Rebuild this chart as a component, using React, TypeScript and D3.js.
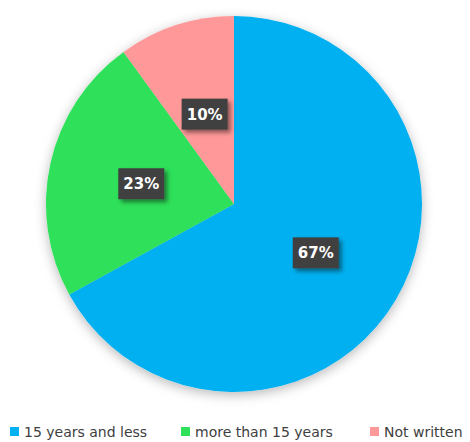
import React, { useEffect, useRef } from 'react';
import * as d3 from 'd3';

const categories = ['15 years and less', 'more than 15 years', 'Not written'];
const values = [67, 23, 10];
const colors = ['#00B0F0', '#2EE05A', '#FF9999'];
const legendX = [10, 181, 370];

export default function App() {
  const ref = useRef<SVGSVGElement>(null);

  useEffect(() => {
    const width = 470;
    const height = 442;
    const cx = 234;
    const cy = 204;
    const radius = 188;

    const svg = d3.select(ref.current)
      .attr('width', width)
      .attr('height', height);
    svg.selectAll('*').remove();

    const defs = svg.append('defs');
    defs.append('filter')
      .attr('id', 'pieShadow')
      .attr('x', '-20%').attr('y', '-20%')
      .attr('width', '140%').attr('height', '140%')
      .append('feDropShadow')
      .attr('dx', 0).attr('dy', 3)
      .attr('stdDeviation', 6)
      .attr('flood-color', '#000')
      .attr('flood-opacity', 0.28);
    defs.append('filter')
      .attr('id', 'boxShadow')
      .attr('x', '-30%').attr('y', '-30%')
      .attr('width', '170%').attr('height', '170%')
      .append('feDropShadow')
      .attr('dx', 3).attr('dy', 3)
      .attr('stdDeviation', 2)
      .attr('flood-color', '#000')
      .attr('flood-opacity', 0.45);

    const pie = d3.pie<number>().sort(null).value(d => d);
    const arcs = pie(values);
    const arc = d3.arc<d3.PieArcDatum<number>>().innerRadius(0).outerRadius(radius);
    const labelArc = d3.arc<d3.PieArcDatum<number>>().innerRadius(95 * 2).outerRadius(0);

    const g = svg.append('g').attr('transform', `translate(${cx},${cy})`);

    g.append('g')
      .attr('filter', 'url(#pieShadow)')
      .selectAll('path')
      .data(arcs)
      .enter()
      .append('path')
      .attr('d', arc)
      .attr('fill', (d, i) => colors[i]);

    const labels = g.selectAll('g.lbl')
      .data(arcs)
      .enter()
      .append('g')
      .attr('class', 'lbl')
      .attr('transform', d => `translate(${labelArc.centroid(d)})`);

    labels.append('rect')
      .attr('x', -23).attr('y', -15)
      .attr('width', 46).attr('height', 31)
      .attr('fill', '#404040')
      .attr('filter', 'url(#boxShadow)');

    labels.append('text')
      .attr('text-anchor', 'middle')
      .attr('y', 6)
      .attr('fill', '#fff')
      .attr('font-family', 'DejaVu Sans, Verdana, sans-serif')
      .attr('font-weight', 'bold')
      .attr('font-size', 15)
      .text(d => `${d.data}%`);

    const legend = svg.append('g')
      .selectAll('g')
      .data(categories)
      .enter()
      .append('g')
      .attr('transform', (d, i) => `translate(${legendX[i]},427)`);

    legend.append('rect')
      .attr('width', 9).attr('height', 9)
      .attr('fill', (d, i) => colors[i]);

    legend.append('text')
      .attr('x', 14)
      .attr('y', 10)
      .attr('fill', '#404040')
      .attr('font-family', 'DejaVu Sans, Verdana, sans-serif')
      .attr('font-size', 14)
      .text(d => d);
  }, []);

  return (
    <svg ref={ref} style={{ position: 'absolute', left: 0, top: 0, background: '#fff' }} />
  );
}
